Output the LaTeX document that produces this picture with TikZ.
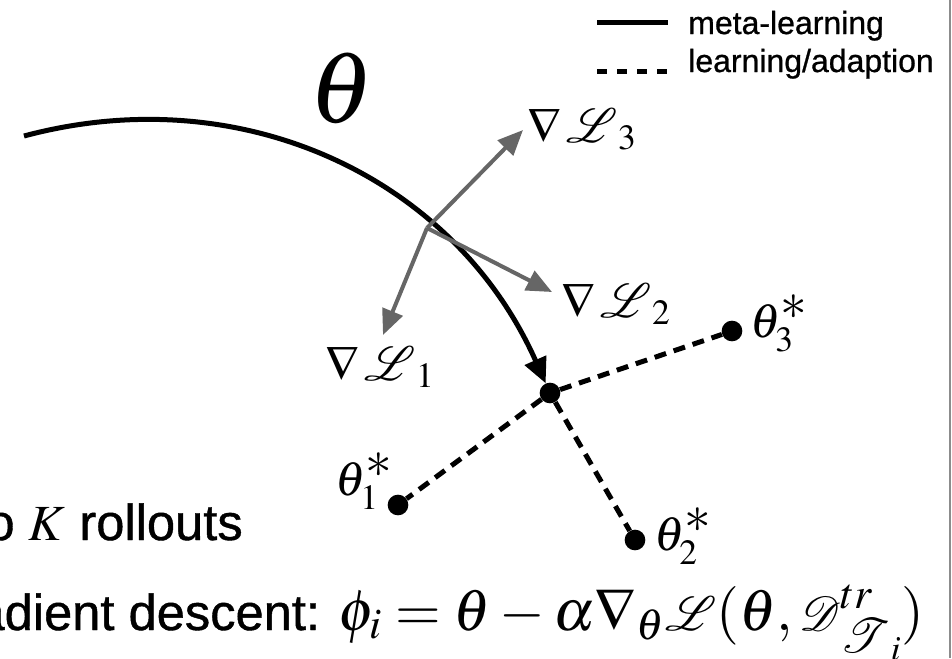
\documentclass[tikz,border=0pt]{standalone}
\usepackage{graphicx}
\usepackage{mathptmx}
\usepackage{mathrsfs}
\usepackage{fontspec}
\newfontfamily\helv[FakeBold=0.8]{Liberation Sans}
\usetikzlibrary{arrows.meta}
\newcommand{\SLsym}{\mathord{\scalebox{1.45}{$\mathscr{L}$}}}
\newcommand{\SDsym}{\mathord{\scalebox{1.45}{$\mathscr{D}$}}}
\newcommand{\STsym}{\mathord{\scalebox{1.45}{$\scriptstyle\mathscr{T}$}}}
\newcommand{\BigStar}{\mathord{\scalebox{1.5}{$\scriptstyle\ast$}}}
\begin{document}
\begin{tikzpicture}[x=0.75pt,y=-0.75pt,
  meta/.style={line width=3.75pt, -{Triangle[length=19pt,width=17pt]}},
  grad/.style={draw=black!60, line width=3pt, -{Triangle[length=19pt,width=16pt]}},
  adapt/.style={line width=3.75pt, dash pattern=on 9pt off 6pt},
  legsolid/.style={line width=3.75pt},
  legdash/.style={line width=3.75pt, dash pattern=on 7.5pt off 7.5pt},
  dot/.style={circle, fill=black, inner sep=0pt, minimum size=15.5pt},
  lbl/.style={inner sep=0pt, anchor=base west, font=\fontsize{36}{40}\selectfont},
  legtext/.style={inner sep=0pt, anchor=base west, font=\helv\fontsize{24}{28}\selectfont},
  bigtext/.style={inner sep=0pt, anchor=base east, font=\helv\fontsize{38}{44}\selectfont},
]
\clip (0,0) rectangle (952,658);
% slide edge
\draw[black!45, line width=1.5pt] (949.5,0) -- (949.5,658);
% legend
\coordinate (m1) at (597,22);
\coordinate (m2) at (668,22);
\coordinate (a1) at (597,71);
\coordinate (a2) at (668,71);
\draw[legsolid] (m1) -- (m2);
\draw[legdash] (a1) -- (a2);
\node[legtext] (lm) at (688,34) {meta-learning};
\node[legtext] (la) at (688,72) {learning/adaption};
% theta
\node[inner sep=0pt, font=\fontsize{76}{80}\selectfont] (th) at (342,88) {$\theta$};
% points
\node[dot] (c) at (550,393) {};
\node[dot] (d1) at (398,505) {};
\node[dot] (d2) at (635,540) {};
\node[dot] (d3) at (732,331) {};
% labels
\node[lbl] (L3) at (527,142) {$\nabla\mkern2mu\SLsym_3$};
\node[lbl] (L2) at (561,317) {$\nabla\mkern2mu\SLsym_2$};
\node[lbl] (L1) at (325,380) {$\nabla\mkern2mu\SLsym_1$};
\node[lbl] (T3) at (750,337) {$\theta^{\BigStar}_3$};
\node[lbl] (T2) at (654,550) {$\theta^{\BigStar}_2$};
\node[lbl] (T1) at (335,495) {$\theta^{\BigStar}_1$};
% meta-learning path
\coordinate (s) at (24,136);
\coordinate (g) at (427,228);
\draw[meta] (s) to[out=15,in=114] (c);
% gradients
\coordinate (t3) at (523,130);
\coordinate (t2) at (552,292);
\coordinate (t1) at (383,335);
\draw[grad] (g) -- (t3);
\draw[grad] (g) -- (t2);
\draw[grad] (g) -- (t1);
% adaptation
\draw[adapt] (c) -- (d1);
\draw[adapt] (c) -- (d2);
\draw[adapt] (c) -- (d3);
% bottom text
\node[bigtext] (roll) at (243,540) {o $K$ rollouts};
\node[bigtext] (upd) at (925,630) {adient descent: {\fontsize{44}{48}\selectfont$\phi_i=\theta-\alpha\nabla_\theta\SLsym(\theta,\SDsym^{tr}_{\STsym_i})$}};
\end{tikzpicture}
\end{document}
